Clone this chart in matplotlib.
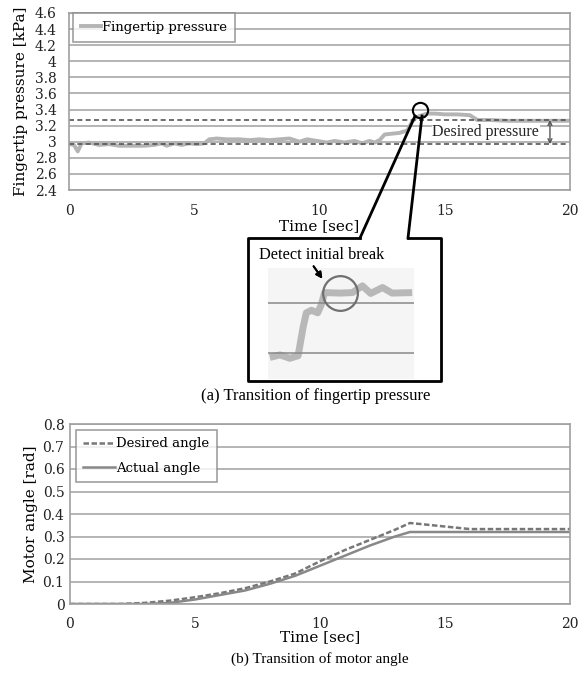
import matplotlib

matplotlib.use("Agg")
import matplotlib.pyplot as plt
from matplotlib.lines import Line2D

# ---- data ----
press_t = [0.0, 0.2, 0.35, 0.5, 0.8, 1.2, 1.6, 2.0, 2.5, 3.0, 3.4, 3.7, 3.9, 4.2,
           4.5, 4.8, 5.1, 5.4, 5.6, 5.9, 6.3, 6.8, 7.2, 7.6, 8.0, 8.4, 8.8, 9.2,
           9.5, 9.9, 10.3, 10.6, 11.0, 11.4, 11.7, 12.0, 12.2, 12.4, 12.6, 12.9,
           13.2, 13.5, 13.7, 13.85, 14.0, 14.3, 14.6, 15.0, 15.5, 16.0, 16.3,
           16.8, 17.5, 18.5, 19.5, 20.0]
press_kpa = [2.97, 2.96, 2.88, 2.98, 2.99, 2.96, 2.97, 2.95, 2.95, 2.95, 2.96, 2.98,
             2.95, 2.98, 2.96, 2.98, 2.97, 2.98, 3.03, 3.04, 3.03, 3.03, 3.02, 3.03,
             3.02, 3.03, 3.04, 3.00, 3.03, 3.01, 2.99, 3.01, 2.99, 3.01, 2.98, 3.01,
             2.99, 3.02, 3.09, 3.10, 3.11, 3.14, 3.25, 3.30, 3.32, 3.35, 3.35, 3.34,
             3.34, 3.33, 3.27, 3.27, 3.26, 3.26, 3.26, 3.26]
desired_band = [2.97, 3.27]
break_point = (14.0, 3.40)

# zoomed-in view shown in the callout box
inset_t = [12.04, 12.26, 12.48, 12.66, 12.77, 12.84, 12.95, 13.09, 13.17, 13.24,
           13.57, 13.85, 14.07, 14.25, 14.51, 14.72, 15.16]
inset_p = [2.975, 2.99, 2.97, 2.985, 3.155, 3.24, 3.255, 3.24, 3.29, 3.36,
           3.357, 3.36, 3.40, 3.355, 3.39, 3.357, 3.36]
inset_lines = [3.0, 3.3]
inset_break = (13.57, 3.36)

angle_des_t = [0, 2, 3, 4, 5, 6, 7, 8, 9, 10, 11, 12, 13, 13.6, 14.5, 16, 20]
angle_des = [0, 0, 0.005, 0.015, 0.03, 0.048, 0.07, 0.1, 0.135, 0.19, 0.24, 0.285,
             0.33, 0.36, 0.35, 0.333, 0.333]
angle_act_t = [0, 3, 4, 5, 6, 7, 8, 9, 10, 11, 12, 13, 13.6, 20]
angle_act = [0, 0, 0.005, 0.02, 0.04, 0.06, 0.09, 0.125, 0.17, 0.215, 0.26, 0.3,
             0.32, 0.32]

W, H = 579, 678
SERIF = "DejaVu Serif"
TIMES = "Liberation Serif"
GRID = "#a0a0a0"


def fx(px):
    return px / W


def fy(py):
    return 1 - py / H


def style_axes(ax):
    for s in ax.spines.values():
        s.set_color(GRID)
        s.set_linewidth(1.2)
    ax.tick_params(length=0, labelsize=10, colors="#222222")
    ax.yaxis.grid(True, color=GRID, linewidth=1.1)
    ax.set_axisbelow(True)
    for lab in ax.get_xticklabels() + ax.get_yticklabels():
        lab.set_family(SERIF)


fig = plt.figure(figsize=(W / 100, H / 100), dpi=100)

# ---- (a) fingertip pressure ----
ax1 = fig.add_axes([fx(69), fy(190), fx(570) - fx(69), fy(13) - fy(190)])
ax1.plot(press_t, press_kpa, color="#b4b4b4", linewidth=2.8, label="Fingertip pressure")
for v in desired_band:
    ax1.axhline(v, color="#555555", linestyle=(0, (3, 2)), linewidth=1.2)
ax1.set_xlim(0, 20)
ax1.set_ylim(2.4, 4.6)
ax1.set_xticks([0, 5, 10, 15, 20])
yt = [2.4 + 0.2 * i for i in range(12)]
ax1.set_yticks(yt)
ax1.set_yticklabels([f"{v:.1f}".rstrip("0").rstrip(".") for v in yt])
style_axes(ax1)
ax1.tick_params(axis="x", pad=10)
ax1.tick_params(axis="y", pad=9)
ax1.set_xlabel("Time [sec]", family=SERIF, fontsize=11, labelpad=1)
ax1.set_ylabel("Fingertip pressure [kPa]", family=SERIF, fontsize=11, labelpad=5)
leg = ax1.legend(loc="upper left", bbox_to_anchor=(0.008, 1.0), frameon=True,
                 fancybox=False, prop={"family": SERIF, "size": 9.5},
                 handlelength=1.5, handletextpad=0.1, borderpad=0.6,
                 borderaxespad=0.0)
leg.get_frame().set_edgecolor("#888888")
leg.get_frame().set_linewidth(1.2)

ax1.annotate("", xy=(19.2, desired_band[0]), xytext=(19.2, desired_band[1]),
             arrowprops=dict(arrowstyle="<->", color="#555555", lw=1.0,
                             shrinkA=0, shrinkB=0, mutation_scale=7))
ax1.text(14.5, 3.12, "Desired pressure", family=TIMES, fontsize=11.5,
         va="center", ha="left", color="#222222",
         bbox=dict(facecolor="white", edgecolor="none", pad=0.5))
ax1.plot([break_point[0]], [break_point[1]], marker="o", markersize=11,
         markerfacecolor="none", markeredgecolor="black", markeredgewidth=1.5,
         zorder=5)

# callout lines + box (figure pixels)
callout = [(360, 238), (248, 238), (248, 381), (441, 381), (441, 238), (408, 238)]
fig.add_artist(Line2D([fx(p[0]) for p in callout], [fy(p[1]) for p in callout],
                      color="black", linewidth=2.0, transform=fig.transFigure))
fig.add_artist(Line2D([fx(360), fx(415)], [fy(238), fy(116)], color="black",
                      linewidth=2.0, transform=fig.transFigure))
fig.add_artist(Line2D([fx(408), fx(422)], [fy(238), fy(116)], color="black",
                      linewidth=2.0, transform=fig.transFigure))

# inset
axi = fig.add_axes([fx(268), fy(379), fx(414) - fx(268), fy(268) - fy(379)])
axi.set_facecolor("#f5f5f5")
axi.plot(inset_t, inset_p, color="#b8b8b8", linewidth=5, solid_capstyle="butt")
for v in inset_lines:
    axi.axhline(v, color="#888888", linewidth=1.1)
axi.plot([inset_break[0]], [inset_break[1]], marker="o", markersize=25,
         markerfacecolor="none", markeredgecolor="#707070", markeredgewidth=1.6)
axi.set_xlim(12.0, 15.2)
axi.set_ylim(2.847, 3.506)
axi.set_xticks([])
axi.set_yticks([])
for s in axi.spines.values():
    s.set_visible(False)

fig.text(fx(322), fy(255), "Detect initial break", family=TIMES, fontsize=11.7,
         ha="center", va="center")
fig.add_artist(plt.annotate("", xy=(fx(324), fy(281)), xytext=(fx(312), fy(264)),
                            xycoords="figure fraction",
                            arrowprops=dict(arrowstyle="-|>", color="black",
                                            lw=1.4, mutation_scale=9)))

fig.text(fx(316), fy(396), "(a) Transition of fingertip pressure", family=TIMES,
         fontsize=12, ha="center", va="center")

# ---- (b) motor angle ----
ax2 = fig.add_axes([fx(70), fy(604), fx(570) - fx(70), fy(424) - fy(604)])
ax2.plot(angle_des_t, angle_des, color="#777777", linestyle=(0, (2.2, 1)),
         linewidth=1.8, label="Desired angle")
ax2.plot(angle_act_t, angle_act, color="#888888", linewidth=1.8, label="Actual angle")
ax2.set_xlim(0, 20)
ax2.set_ylim(0, 0.8)
ax2.set_xticks([0, 5, 10, 15, 20])
yt2 = [0.1 * i for i in range(9)]
ax2.set_yticks(yt2)
ax2.set_yticklabels(["0"] + [f"{v:.1f}" for v in yt2[1:]])
style_axes(ax2)
ax2.tick_params(axis="x", pad=9)
ax2.tick_params(axis="y", pad=4)
ax2.set_xlabel("Time [sec]", family=SERIF, fontsize=11, labelpad=0)
ax2.set_ylabel("Motor angle [rad]", family=SERIF, fontsize=11, labelpad=3)
leg2 = ax2.legend(loc="upper left", bbox_to_anchor=(0.012, 0.967), frameon=True,
                  fancybox=False, prop={"family": SERIF, "size": 9.5},
                  handlelength=2.4, handletextpad=0.1, borderpad=0.55,
                  labelspacing=0.9, borderaxespad=0.0)
leg2.get_frame().set_edgecolor("#888888")
leg2.get_frame().set_linewidth(1.2)

fig.text(fx(320), fy(659), "(b) Transition of motor angle", family=TIMES,
         fontsize=11, ha="center", va="center")

fig.savefig("out.png", dpi=100)
